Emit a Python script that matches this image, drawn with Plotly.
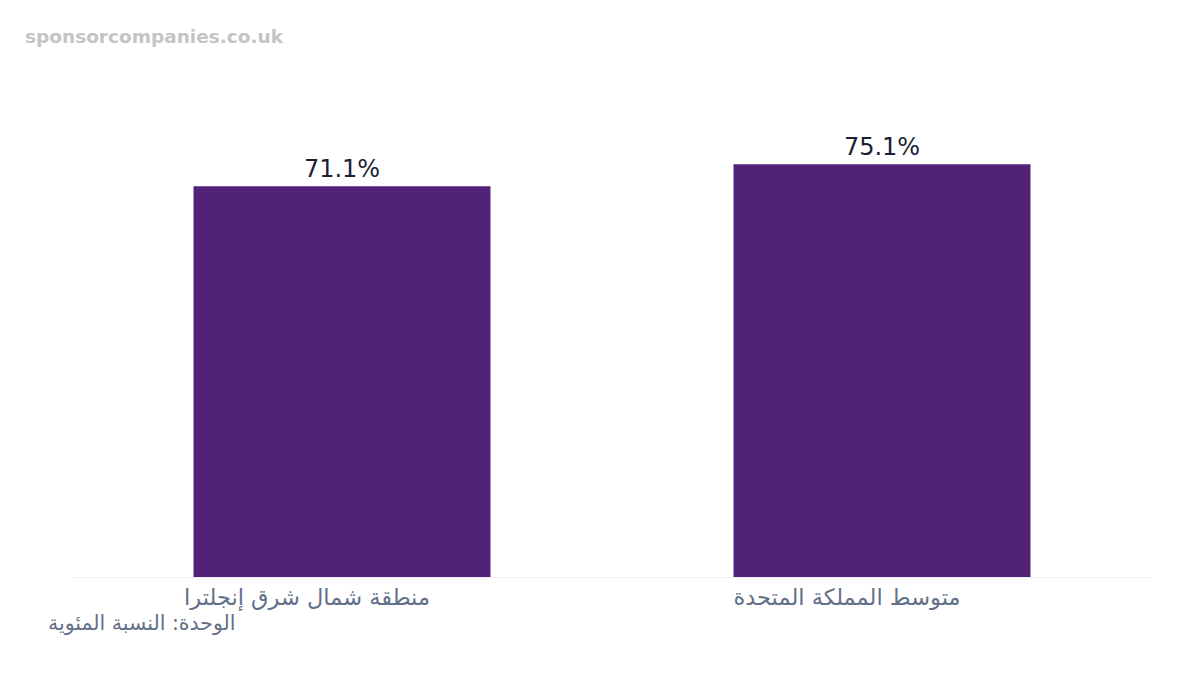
import plotly.graph_objects as go

# données
regions = ["منطقة شمال شرق إنجلترا", "متوسط المملكة المتحدة"]
valeurs = [71.1, 75.1]
etiquettes = ["71.1%", "75.1%"]

fig = go.Figure([go.Bar(
    x=regions,
    y=valeurs,
    text=etiquettes,
    textposition="outside",
    cliponaxis=False,
    marker=dict(color="#522178", line=dict(width=0)),
    textfont=dict(family="DejaVu Sans", size=24, color="#1c1f33"),
)])

# la page ajoute 8px de marge autour du graphique
fig.update_layout(
    width=1200,
    height=675,
    margin=dict(l=64, r=56, t=115, b=106),
    plot_bgcolor="white",
    paper_bgcolor="white",
    bargap=0.45,
    showlegend=False,
    font=dict(family="DejaVu Sans"),
)

fig.update_xaxes(
    showgrid=False,
    showline=True,
    linecolor="#f0f0f3",
    linewidth=1,
    tickfont=dict(size=22.5, color="#637089"),
    ticks="",
    ticklabelshift=-35,
)
fig.update_yaxes(
    range=[0, 82.6],
    visible=False,
    showgrid=False,
    zeroline=False,
)

# filigrane
fig.add_annotation(
    text="<b>sponsorcompanies.co.uk</b>",
    xref="paper", yref="paper",
    x=-0.045, y=1.19,
    xanchor="left", yanchor="middle",
    showarrow=False,
    font=dict(size=18.5, color="#c4c4c4"),
)

# unité
fig.add_annotation(
    text="الوحدة: النسبة المئوية",
    xref="paper", yref="paper",
    x=-0.024, y=-0.102,
    xanchor="left", yanchor="middle",
    showarrow=False,
    font=dict(size=20.5, color="#637089"),
)

fig.write_html("out.html")
